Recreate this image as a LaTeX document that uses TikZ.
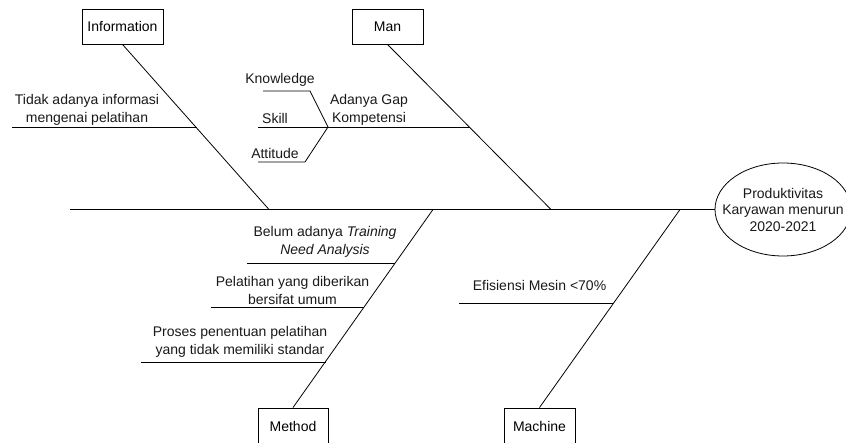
\documentclass[tikz,border=0pt]{standalone}
\usepackage{fontspec}
\setmainfont{Liberation Sans}
\usetikzlibrary{shapes.geometric,calc}
\begin{document}
\begin{tikzpicture}[x=1pt,y=-1pt,
  every node/.style={font=\fontsize{14}{18}\selectfont, inner sep=0pt, align=center},
  box/.style={draw, line width=0.9pt, minimum height=35pt, inner sep=0pt},
  bone/.style={line width=0.8pt},
  lbl/.style={text=black!90}]
\useasboundingbox (0,0) rectangle (846,443);
% category boxes
\node[box, minimum width=81pt] (info) at (122.5,26.5) {Information};
\node[box, minimum width=71pt] (man) at (387.5,26.5) {Man};
\node[box, minimum width=70pt, minimum height=36pt] (method) at (293,426) {Method};
\node[box, minimum width=71pt, minimum height=36pt] (machine) at (539.5,426) {Machine};
% effect
\node[draw, ellipse, line width=0.8pt, minimum width=136pt, minimum height=93pt] (effect) at (783,209.5) {};
\node[lbl, font=\fontsize{14}{16.5}\selectfont] (effecttext) at (783,209.5) {Produktivitas\\Karyawan menurun\\2020-2021};
% spine
\coordinate (tail) at (70,209.5);
\draw[bone] (tail) -- (effect.west);
% junctions on spine
\coordinate (jI) at (269,209.5);
\coordinate (jM) at (551,209.5);
\coordinate (jMe) at (433,209.5);
\coordinate (jMa) at (680,209.5);
% main bones
\draw[bone] (info.south) -- (jI);
\draw[bone] (man.south) -- (jM);
\draw[bone] (jMe) -- (method.north);
\draw[bone] (jMa) -- (machine.north);
% Information cause
\coordinate (iS) at (12,127);
\coordinate (iE) at (197,127);
\draw[bone] (iS) -- (iE);
\node[lbl] (t1) at (87,109.5) {Tidak adanya informasi\\mengenai pelatihan};
% Man cause
\coordinate (gap) at (328,127);
\coordinate (skillS) at (258,127);
\coordinate (mE) at (469.5,127);
\draw[bone] (skillS) -- (mE);
\coordinate (kS) at (263,91);
\coordinate (kB) at (310,91);
\draw[bone] (kS) -- (kB) -- (gap);
\coordinate (aS) at (258,162);
\coordinate (aB) at (305,162);
\draw[bone] (aS) -- (aB) -- (gap);
\node[lbl] (tk) at (280,80) {Knowledge};
\node[lbl] (ts) at (275,118) {Skill};
\node[lbl] (ta) at (275,153) {Attitude};
\node[lbl] (tg) at (369,109.5) {Adanya Gap\\Kompetensi};
% Method causes
\coordinate (m1S) at (247,263);
\coordinate (m1E) at (395,263);
\draw[bone] (m1S) -- (m1E);
\node[lbl] (tm1) at (325,241.5) {Belum adanya \textit{Training}\\\textit{Need Analysis}};
\coordinate (m2S) at (211,307);
\coordinate (m2E) at (364,307);
\draw[bone] (m2S) -- (m2E);
\node[lbl] (tm2) at (292.5,290) {Pelatihan yang diberikan\\bersifat umum};
\coordinate (m3S) at (141,362);
\coordinate (m3E) at (326,362);
\draw[bone] (m3S) -- (m3E);
\node[lbl] (tm3) at (240,342) {Proses penentuan pelatihan\\yang tidak memiliki standar};
% Machine cause
\coordinate (c1S) at (459,303);
\coordinate (c1E) at (613.4,303);
\draw[bone] (c1S) -- (c1E);
\node[lbl] (tc1) at (539.5,285.5) {Efisiensi Mesin <70\%};
\end{tikzpicture}
\end{document}
